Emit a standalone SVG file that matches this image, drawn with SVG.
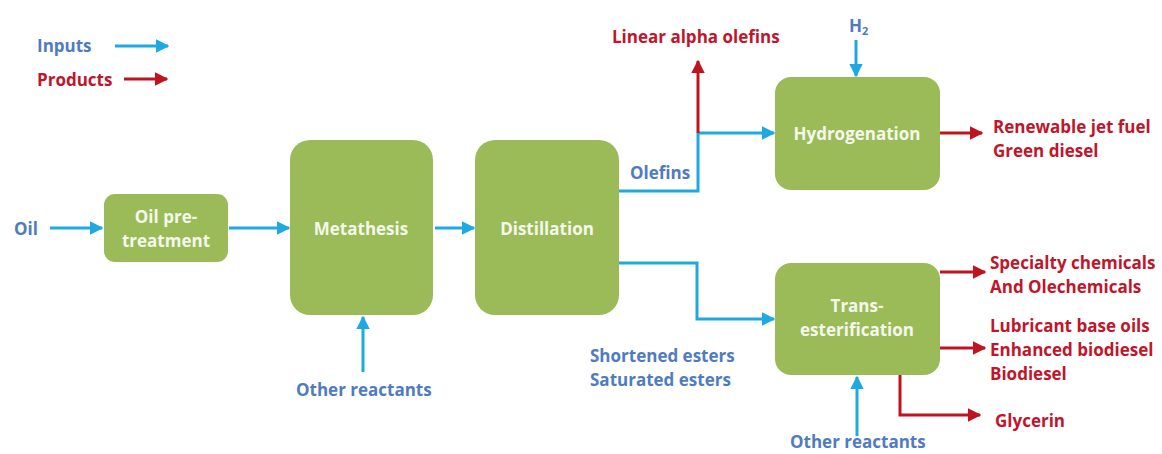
<svg xmlns="http://www.w3.org/2000/svg" width="1162" height="454" viewBox="0 0 1162 454">
<defs>
<marker id="ab" viewBox="0 0 10 10" refX="9" refY="5" markerWidth="4.5" markerHeight="4.5" orient="auto" markerUnits="strokeWidth"><path d="M0,0 L10,5 L0,10 z" fill="#1FA9E1"/></marker>
<marker id="ar" viewBox="0 0 10 10" refX="9" refY="5" markerWidth="4.5" markerHeight="4.5" orient="auto" markerUnits="strokeWidth"><path d="M0,0 L10,5 L0,10 z" fill="#C0121F"/></marker>
</defs>
<style>
.box{fill:#9BBB59}
.bt{font-family:"Open Sans","Liberation Sans",sans-serif;font-weight:bold;font-size:17px;fill:#F4F8EC;text-anchor:middle}
.in{font-family:"Open Sans","Liberation Sans",sans-serif;font-weight:bold;font-size:17px;fill:#4F7BC0}
.pr{font-family:"Open Sans","Liberation Sans",sans-serif;font-weight:bold;font-size:17px;fill:#C0152A}
.b{fill:none;stroke:#1FA9E1;stroke-width:3;marker-end:url(#ab)}
.bn{fill:none;stroke:#1FA9E1;stroke-width:3}
.r{fill:none;stroke:#C0121F;stroke-width:3;marker-end:url(#ar)}
</style>
<rect width="1162" height="454" fill="#ffffff"/>
<g id="legend">
<text class="in" x="37" y="52">Inputs</text>
<text class="pr" x="37" y="86">Products</text>
</g>
<g id="oil-label"><text class="in" x="14" y="235">Oil</text></g>
<g id="pretreatment">
<rect class="box" x="104" y="194" width="124" height="68" rx="11"/>
<text class="bt" x="166" y="223">Oil pre-</text>
<text class="bt" x="166" y="247">treatment</text>
</g>
<g id="metathesis">
<rect class="box" x="290" y="140" width="143" height="175" rx="20"/>
<text class="bt" x="361" y="235">Metathesis</text>
</g>
<g id="distillation">
<rect class="box" x="475" y="140" width="144" height="175" rx="20"/>
<text class="bt" x="547" y="235">Distillation</text>
</g>
<g id="hydrogenation">
<rect class="box" x="775" y="77" width="165" height="113" rx="16"/>
<text class="bt" x="857" y="140">Hydrogenation</text>
</g>
<g id="transesterification">
<rect class="box" x="775" y="263" width="165" height="112" rx="16"/>
<text class="bt" x="857" y="312">Trans-</text>
<text class="bt" x="857" y="336">esterification</text>
</g>
<g id="labels">
<text class="in" x="630" y="179">Olefins</text>
<text class="pr" x="612" y="43">Linear alpha olefins</text>
<text class="in" x="849" y="32">H<tspan font-size="11" dy="3">2</tspan></text>
<text class="pr" x="993" y="133">Renewable jet fuel</text>
<text class="pr" x="993" y="157">Green diesel</text>
<text class="in" x="590" y="362">Shortened esters</text>
<text class="in" x="590" y="386">Saturated esters</text>
<text class="pr" x="990" y="269">Specialty chemicals</text>
<text class="pr" x="990" y="293">And Olechemicals</text>
<text class="pr" x="990" y="332">Lubricant base oils</text>
<text class="pr" x="990" y="356">Enhanced biodiesel</text>
<text class="pr" x="990" y="380">Biodiesel</text>
<text class="pr" x="995" y="427">Glycerin</text>
<text class="in" x="296" y="396">Other reactants</text>
<text class="in" x="790" y="448">Other reactants</text>
</g>
<g id="connectors">
<line class="b" x1="115" y1="46" x2="168" y2="46"/>
<line class="r" x1="124" y1="79" x2="167" y2="79"/>
<line class="b" x1="50" y1="228" x2="102" y2="228"/>
<line class="b" x1="229" y1="228" x2="289" y2="228"/>
<line class="b" x1="435" y1="228" x2="474" y2="228"/>
<line class="b" x1="363" y1="372" x2="363" y2="317"/>
<polyline class="bn" points="619,191 698,191 698,133"/>
<line class="b" x1="697" y1="133" x2="774" y2="133"/>
<line class="r" x1="698" y1="133" x2="698" y2="61"/>
<line class="b" x1="856" y1="40" x2="856" y2="76"/>
<line class="r" x1="940" y1="133" x2="982" y2="133"/>
<polyline class="b" points="619,263 697,263 697,319 774,319"/>
<line class="r" x1="940" y1="272" x2="985" y2="272"/>
<line class="r" x1="940" y1="348" x2="985" y2="348"/>
<polyline class="r" points="900,375 900,415 980,415"/>
<line class="b" x1="857" y1="436" x2="857" y2="377"/>
</g>
</svg>
